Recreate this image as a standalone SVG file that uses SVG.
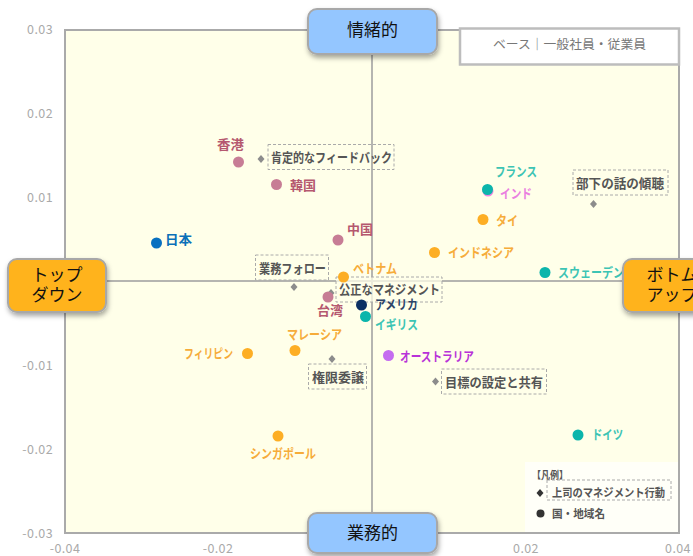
<svg xmlns="http://www.w3.org/2000/svg" width="693" height="556" viewBox="0 0 693 556">
<style>
text{font-family:"Noto Sans CJK JP","Liberation Sans",sans-serif}
.tick{font-family:"Liberation Sans",sans-serif;font-size:12.500px;fill:#aaa;letter-spacing:.4px}
.l{font-size:13px;font-weight:700}
.b{font-size:13px;font-weight:700;fill:#555}
.box{fill:none;stroke:#aaa;stroke-width:1;stroke-dasharray:3 2}
.d{fill:#8c8c8c}
.axis{font-size:17px;fill:#111;text-anchor:middle}
.blue{fill:#94c6ff;stroke:#a8a8a8;stroke-width:2;filter:url(#s)}
.org{fill:#ffb31a;stroke:#a8a8a8;stroke-width:2;filter:url(#s)}
.rose{fill:#c77d95}.rt{fill:#b5586f}
.o{fill:#fdae24}.ot{fill:#f6ac3a}
.t{fill:#0bb5ab}.tt{fill:#3cc4b4}
</style>
<defs>
<filter id="s" x="-20%" y="-20%" width="140%" height="150%"><feDropShadow dx="1" dy="3" stdDeviation="2.500" flood-color="#000" flood-opacity=".35"/></filter>
</defs>
<rect width="693" height="556" fill="#fff"/>
<g id="plot">
<rect x="65" y="30" width="614" height="503" fill="#ffffe9" stroke="#aaa" stroke-width="2"/>
<line x1="372" y1="30" x2="372" y2="533" stroke="#b5b5b0" stroke-width="2"/>
<line x1="65" y1="281" x2="679" y2="281" stroke="#b5b5b0" stroke-width="2"/>
<rect x="525" y="462" width="153" height="70" fill="#fffff8"/>
</g>
<g id="ticks" class="tick">
<text x="53" y="34" text-anchor="end">0.03</text>
<text x="53" y="118" text-anchor="end">0.02</text>
<text x="53" y="202" text-anchor="end">0.01</text>
<text x="53" y="370" text-anchor="end">-0.01</text>
<text x="53" y="454" text-anchor="end">-0.02</text>
<text x="53" y="538" text-anchor="end">-0.03</text>
<text x="65" y="553" text-anchor="middle">-0.04</text>
<text x="218" y="553" text-anchor="middle">-0.02</text>
<text x="526" y="553" text-anchor="middle">0.02</text>
<text x="678" y="553" text-anchor="middle">0.04</text>
</g>
<g id="base"><rect x="460" y="28.500" width="219" height="36" fill="#fff" stroke="#bdbdbd" stroke-width="2.500"/><text x="493" y="49" font-size="12.500" fill="#777" textLength="153" lengthAdjust="spacingAndGlyphs">ベース｜一般社員・従業員</text></g>

<g id="b-praise"><path class="d" d="M261 155l3.500 4-3.500 4-3.500-4z"/><rect class="box" x="268" y="144.500" width="126" height="25"/><text class="b" x="271" y="162" textLength="121" lengthAdjust="spacingAndGlyphs">肯定的なフィードバック</text></g>
<g id="b-listen"><path class="d" d="M593.500 200l3.500 4-3.500 4-3.500-4z"/><rect class="box" x="573" y="170" width="95" height="25"/><text class="b" x="576" y="188" textLength="88" lengthAdjust="spacingAndGlyphs">部下の話の傾聴</text></g>
<g id="b-follow"><path class="d" d="M294 283l3.500 4-3.500 4-3.500-4z"/><rect class="box" x="255.500" y="255" width="73" height="25"/><text class="b" x="259" y="273" textLength="67" lengthAdjust="spacingAndGlyphs">業務フォロー</text></g>
<g id="b-fair"><path class="d" d="M331 289l3.500 4-3.500 4-3.500-4z"/><rect x="336" y="277" width="106" height="25" fill="#ffffe9" fill-opacity=".75"/><rect class="box" x="336" y="277" width="106" height="25"/><text class="b" x="339" y="294" textLength="101" lengthAdjust="spacingAndGlyphs">公正なマネジメント</text></g>
<g id="b-deleg"><path class="d" d="M332 355l3.500 4-3.500 4-3.500-4z"/><rect class="box" x="308.500" y="364" width="58" height="25"/><text class="b" x="312" y="382" textLength="52" lengthAdjust="spacingAndGlyphs">権限委譲</text></g>
<g id="b-goal"><path class="d" d="M435.500 377.500l3.500 4-3.500 4-3.500-4z"/><rect class="box" x="441.500" y="369" width="105" height="25"/><text class="b" x="445" y="387" textLength="98" lengthAdjust="spacingAndGlyphs">目標の設定と共有</text></g>

<g id="hk"><circle class="rose" cx="238.500" cy="162" r="5.500"/><text class="l rt" x="217" y="149" textLength="27" lengthAdjust="spacingAndGlyphs">香港</text></g>
<g id="kr"><circle class="rose" cx="276.500" cy="184.500" r="5.500"/><text class="l rt" x="290" y="190" textLength="26" lengthAdjust="spacingAndGlyphs">韓国</text></g>
<g id="cn"><circle class="rose" cx="338" cy="240" r="5.500"/><text class="l rt" x="347" y="234" textLength="26" lengthAdjust="spacingAndGlyphs">中国</text></g>
<g id="tw"><circle class="rose" cx="328" cy="297" r="5.500"/><text class="l rt" x="317" y="315" textLength="26" lengthAdjust="spacingAndGlyphs">台湾</text></g>
<g id="jp"><circle cx="156.500" cy="243" r="5.500" fill="#0870c0"/><text class="l" x="165" y="244" fill="#0a70b8" textLength="27" lengthAdjust="spacingAndGlyphs">日本</text></g>
<g id="in"><circle cx="488" cy="191" r="5.500" fill="#ef88e2"/><text class="l" x="500" y="198" fill="#ea80e0" textLength="32" lengthAdjust="spacingAndGlyphs">インド</text></g>
<g id="fr"><circle class="t" cx="487.500" cy="189.500" r="5.500"/><text class="l tt" x="495" y="176" textLength="42" lengthAdjust="spacingAndGlyphs">フランス</text></g>
<g id="th"><circle class="o" cx="483" cy="219.500" r="5.500"/><text class="l ot" x="496" y="225" textLength="22" lengthAdjust="spacingAndGlyphs">タイ</text></g>
<g id="id"><circle class="o" cx="434.500" cy="252.500" r="5.500"/><text class="l ot" x="448" y="257" textLength="66" lengthAdjust="spacingAndGlyphs">インドネシア</text></g>
<g id="vn"><circle class="o" cx="343.500" cy="277" r="5.500"/><text class="l ot" x="353" y="273" textLength="44" lengthAdjust="spacingAndGlyphs">ベトナム</text></g>
<g id="se"><circle class="t" cx="545" cy="272.500" r="5.500"/><text class="l tt" x="558" y="277" textLength="66" lengthAdjust="spacingAndGlyphs">スウェーデン</text></g>
<g id="us"><circle cx="361.500" cy="305" r="5.500" fill="#0b2f63"/><text class="l" x="375" y="309" fill="#2b4468" textLength="43" lengthAdjust="spacingAndGlyphs">アメリカ</text></g>
<g id="uk"><circle class="t" cx="365.500" cy="316.500" r="5.500"/><text class="l tt" x="375" y="329" textLength="43" lengthAdjust="spacingAndGlyphs">イギリス</text></g>
<g id="au"><circle cx="388.500" cy="355.500" r="5.500" fill="#c56cf0"/><text class="l" x="400" y="361" fill="#b832d8" textLength="74" lengthAdjust="spacingAndGlyphs">オーストラリア</text></g>
<g id="my"><circle class="o" cx="295" cy="350.500" r="5.500"/><text class="l ot" x="287" y="339" textLength="55" lengthAdjust="spacingAndGlyphs">マレーシア</text></g>
<g id="ph"><circle class="o" cx="247.500" cy="353.500" r="5.500"/><text class="l ot" x="184" y="358" textLength="49" lengthAdjust="spacingAndGlyphs">フィリピン</text></g>
<g id="sg"><circle class="o" cx="278" cy="436" r="5.500"/><text class="l ot" x="250" y="458" textLength="66" lengthAdjust="spacingAndGlyphs">シンガポール</text></g>
<g id="de"><circle class="t" cx="578" cy="435" r="5.500"/><text class="l tt" x="592" y="439" textLength="31" lengthAdjust="spacingAndGlyphs">ドイツ</text></g>

<g id="legend">
<text x="532" y="479" font-size="10" font-weight="700" fill="#555" textLength="36" lengthAdjust="spacingAndGlyphs">【凡例】</text>
<path d="M540 489l3.500 4-3.500 4-3.500-4z" fill="#333"/>
<rect class="box" x="547" y="480" width="124" height="20"/>
<text x="552" y="497" font-size="11.500" font-weight="700" fill="#555" textLength="113" lengthAdjust="spacingAndGlyphs">上司のマネジメント行動</text>
<circle cx="540.500" cy="513.500" r="4" fill="#333"/>
<text x="552" y="518" font-size="11.500" font-weight="700" fill="#555" textLength="53" lengthAdjust="spacingAndGlyphs">国・地域名</text>
</g>

<g id="top"><rect class="blue" x="308" y="9" width="129" height="45" rx="9"/><text class="axis" x="372.500" y="36">情緒的</text></g>
<g id="bottom"><rect class="blue" x="308" y="513" width="129" height="40" rx="9"/><text class="axis" x="372.500" y="539">業務的</text></g>
<g id="left"><rect class="org" x="8" y="259" width="98" height="53" rx="9"/><text class="axis"><tspan x="57" y="281">トップ</tspan><tspan x="57" y="301">ダウン</tspan></text></g>
<g id="right"><rect class="org" x="623" y="259" width="98" height="53" rx="9"/><text class="axis"><tspan x="672" y="281">ボトム</tspan><tspan x="672" y="301">アップ</tspan></text></g>
</svg>
